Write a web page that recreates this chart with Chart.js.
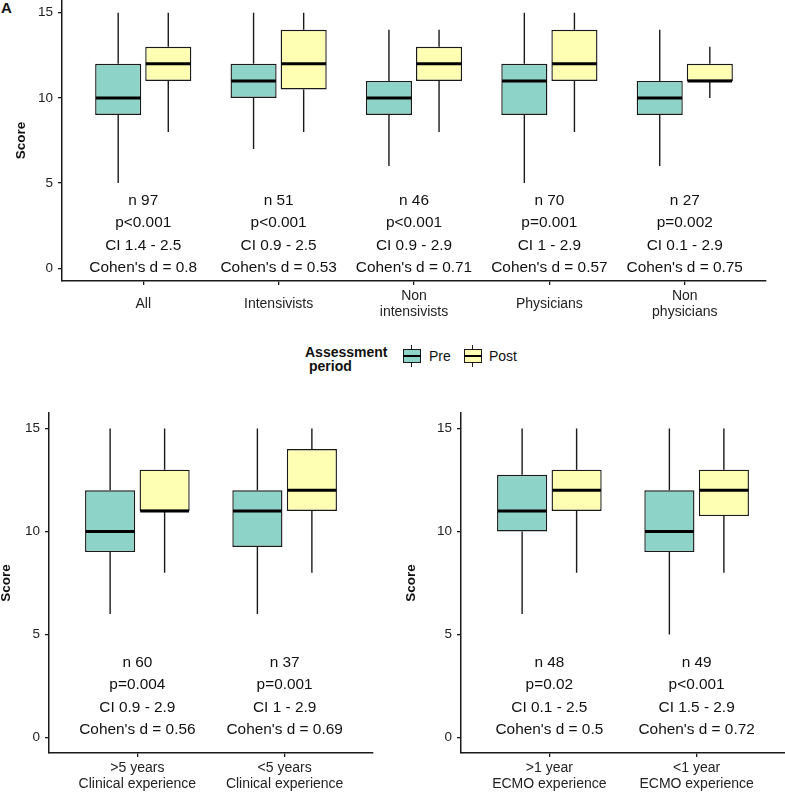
<!DOCTYPE html>
<html>
<head>
<meta charset="utf-8">
<script src="https://cdn.jsdelivr.net/npm/chart.js@4.4.1/dist/chart.umd.min.js"></script>
<style>
  html, body { margin: 0; padding: 0; background: #fff; }
  body { width: 785px; height: 792px; position: relative; overflow: hidden;
         font-family: "Liberation Sans", Arial, sans-serif; color: #111; }
  .wrap { position: absolute; }
  .lg { position: absolute; font-size: 14px; line-height: 16px; white-space: nowrap; }
  .lgb { font-weight: bold; }
  .glyph { position: absolute; width: 18px; height: 22px; }
  .glyph .wk { position: absolute; left: 8px; width: 1.4px; height: 4px; background: #1a1a1a; }
  .glyph .bx { position: absolute; left: 0; top: 4px; width: 18px; height: 14px; box-sizing: border-box; border: 1.4px solid #1a1a1a; }
  .glyph .md { position: absolute; left: 0; top: 9.5px; width: 18px; height: 2.6px; background: #000; }
</style>
</head>
<body>
<div class="lg lgb" style="left:1px;top:0px;font-size:15px;">A</div>
<div class="wrap" style="left:0;top:0;width:785px;height:330px;"><canvas id="cTop"></canvas></div>

<div class="lg lgb" style="left:305px;top:344px;">Assessment</div>
<div class="lg lgb" style="left:309px;top:358px;">period</div>
<div class="glyph" style="left:403px;top:345px;"><div class="wk" style="top:0"></div><div class="bx" style="background:#8DD3C7"></div><div class="md"></div><div class="wk" style="top:18px"></div></div>
<div class="lg" style="left:429px;top:348px;">Pre</div>
<div class="glyph" style="left:464px;top:345px;"><div class="wk" style="top:0"></div><div class="bx" style="background:#FFFFB3"></div><div class="md"></div><div class="wk" style="top:18px"></div></div>
<div class="lg" style="left:489px;top:348px;">Post</div>

<div class="wrap" style="left:0;top:400px;width:390px;height:392px;"><canvas id="cBL"></canvas></div>
<div class="wrap" style="left:390px;top:400px;width:395px;height:392px;"><canvas id="cBR"></canvas></div>

<script>
// ---------- DATA ----------
const yTickValues = [0, 5, 10, 15];

// Panel A: all participants / subgroups
const topCategories = ["All", "Intensivists", ["Non", "intensivists"], "Physicians", ["Non", "physicians"]];
const topPreMin    = [5, 7, 6, 5, 6];
const topPreQ1     = [9, 10, 9, 9, 9];
const topPreMedian = [10, 11, 10, 11, 10];
const topPreQ3     = [12, 12, 11, 12, 11];
const topPreMax    = [15, 15, 14, 15, 14];
const topPostMin    = [8, 8, 8, 8, 10];
const topPostQ1     = [11, 10.5, 11, 11, 11];
const topPostMedian = [12, 12, 12, 12, 11];
const topPostQ3     = [13, 14, 13, 14, 12];
const topPostMax    = [15, 15, 14, 15, 13];
const topN   = [97, 51, 46, 70, 27];
const topP   = ["p<0.001", "p<0.001", "p<0.001", "p=0.001", "p=0.002"];
const topCI  = ["1.4 - 2.5", "0.9 - 2.5", "0.9 - 2.9", "1 - 2.9", "0.1 - 2.9"];
const topD   = ["0.8", "0.53", "0.71", "0.57", "0.75"];

// Panel B: clinical experience
const clinCategories = [[">5 years", "Clinical experience"], ["<5 years", "Clinical experience"]];
const clinPreMin    = [6, 6];
const clinPreQ1     = [9, 9.25];
const clinPreMedian = [10, 11];
const clinPreQ3     = [12, 12];
const clinPreMax    = [15, 15];
const clinPostMin    = [8, 8];
const clinPostQ1     = [11, 11];
const clinPostMedian = [11, 12];
const clinPostQ3     = [13, 14];
const clinPostMax    = [15, 15];
const clinN  = [60, 37];
const clinP  = ["p=0.004", "p=0.001"];
const clinCI = ["0.9 - 2.9", "1 - 2.9"];
const clinD  = ["0.56", "0.69"];

// Panel C: ECMO experience
const ecmoCategories = [[">1 year", "ECMO experience"], ["<1 year", "ECMO experience"]];
const ecmoPreMin    = [6, 5];
const ecmoPreQ1     = [10, 9];
const ecmoPreMedian = [11, 10];
const ecmoPreQ3     = [12.75, 12];
const ecmoPreMax    = [15, 15];
const ecmoPostMin    = [8, 8];
const ecmoPostQ1     = [11, 10.75];
const ecmoPostMedian = [12, 12];
const ecmoPostQ3     = [13, 13];
const ecmoPostMax    = [15, 15];
const ecmoN  = [48, 49];
const ecmoP  = ["p=0.02", "p<0.001"];
const ecmoCI = ["0.1 - 2.5", "1.5 - 2.9"];
const ecmoD  = ["0.5", "0.72"];

const seriesNames = ["Pre", "Post"];
const seriesColors = ["#8DD3C7", "#FFFFB3"];

// ---------- RENDERING ----------
Chart.defaults.font.family = '"Liberation Sans", Arial, sans-serif';
const INK = "#1a1a1a";

const boxPlugin = {
  id: "boxWhisker",
  afterDatasetsDraw(chart) {
    const ctx = chart.ctx, ys = chart.scales.y;
    chart.data.datasets.forEach((ds, d) => {
      const meta = chart.getDatasetMeta(d);
      meta.data.forEach((bar, i) => {
        const p = bar.getProps(["x", "width"], true);
        const x = p.x, w = p.width;
        ctx.save();
        ctx.strokeStyle = INK;
        ctx.lineWidth = 1.4;
        ctx.beginPath();
        ctx.moveTo(x, ys.getPixelForValue(ds.stat.q3[i]));
        ctx.lineTo(x, ys.getPixelForValue(ds.stat.max[i]));
        ctx.moveTo(x, ys.getPixelForValue(ds.stat.q1[i]));
        ctx.lineTo(x, ys.getPixelForValue(ds.stat.min[i]));
        ctx.stroke();
        ctx.strokeStyle = "#000";
        ctx.lineWidth = 3;
        const my = ys.getPixelForValue(ds.stat.med[i]);
        ctx.beginPath();
        ctx.moveTo(x - w / 2 + 0.7, my);
        ctx.lineTo(x + w / 2 - 0.7, my);
        ctx.stroke();
        ctx.restore();
      });
    });
  }
};

const statsPlugin = {
  id: "statsText",
  afterDraw(chart) {
    const t = chart.options.plugins.statsText;
    if (!t) return;
    const ctx = chart.ctx, xs = chart.scales.x, ys = chart.scales.y;
    ctx.save();
    ctx.font = "15.4px 'Liberation Sans', Arial, sans-serif";
    ctx.fillStyle = "#111";
    ctx.textAlign = "center";
    ctx.textBaseline = "middle";
    const yc = ys.getPixelForValue(t.centerValue);
    t.n.forEach((n, i) => {
      const lines = ["n " + n, t.p[i], "CI " + t.ci[i], "Cohen's d = " + t.d[i]];
      const x = xs.getPixelForValue(i);
      lines.forEach((s, k) => ctx.fillText(s, x, yc + (k - 1.5) * 22.5));
    });
    ctx.restore();
  }
};

function makeChart(id, cats, pre, post, stats, lay) {
  const mk = (s, k) => ({
    label: seriesNames[k],
    data: cats.map((c, i) => ({ x: i, y: [s.q1[i], s.q3[i]] })),
    backgroundColor: seriesColors[k],
    borderColor: INK,
    borderWidth: 1.4,
    borderSkipped: false,
    categoryPercentage: 0.74,
    barPercentage: 0.92,
    stat: s
  });
  return new Chart(document.getElementById(id), {
    type: "bar",
    data: { datasets: [mk(pre, 0), mk(post, 1)] },
    plugins: [boxPlugin, statsPlugin],
    options: {
      responsive: true,
      maintainAspectRatio: false,
      animation: false,
      layout: { padding: { left: 0, top: lay.top, right: lay.right, bottom: 0 } },
      plugins: {
        legend: { display: false },
        tooltip: { enabled: false },
        statsText: Object.assign({ centerValue: 2 }, stats)
      },
      scales: {
        x: {
          type: "linear",
          offset: false,
          min: -0.6,
          max: cats.length - 1 + 0.6,
          afterBuildTicks: s => { s.ticks = cats.map((c, i) => ({ value: i })); },
          afterFit: s => { s.height = lay.xH; s.paddingLeft = 0; s.paddingRight = 0; },
          ticks: {
            autoSkip: false, maxRotation: 0, minRotation: 0,
            callback: v => cats[Math.round(v)],
            color: "#222",
            font: { size: 14, lineHeight: 1.13 },
            padding: 11,
            crossAlign: "center"
          },
          grid: { offset: false, drawOnChartArea: false, drawTicks: true, tickLength: 4, color: INK, lineWidth: 1.3 },
          border: { display: true, color: INK, width: 1.5 }
        },
        y: {
          type: "linear",
          min: -0.75,
          max: 15.75,
          afterBuildTicks: s => { s.ticks = yTickValues.map(v => ({ value: v })); },
          afterFit: s => { s.width = lay.yW; s.paddingTop = 0; s.paddingBottom = 0; },
          ticks: { color: "#222", font: { size: 13.5 }, padding: 5 },
          grid: { drawOnChartArea: false, drawTicks: true, tickLength: 4, color: INK, lineWidth: 1.3 },
          border: { display: true, color: INK, width: 1.5 },
          title: {
            display: true, text: "Score", color: "#111",
            font: { size: 13.5, weight: "bold", lineHeight: 1 },
            padding: { top: lay.titlePad, bottom: 0 }
          }
        }
      }
    }
  });
}

makeChart("cTop", topCategories,
  { min: topPreMin, q1: topPreQ1, med: topPreMedian, q3: topPreQ3, max: topPreMax },
  { min: topPostMin, q1: topPostQ1, med: topPostMedian, q3: topPostQ3, max: topPostMax },
  { n: topN, p: topP, ci: topCI, d: topD },
  { top: 0, right: 19, xH: 49, yW: 62, titlePad: 15 });

makeChart("cBL", clinCategories,
  { min: clinPreMin, q1: clinPreQ1, med: clinPreMedian, q3: clinPreQ3, max: clinPreMax },
  { min: clinPostMin, q1: clinPostQ1, med: clinPostMedian, q3: clinPostQ3, max: clinPostMax },
  { n: clinN, p: clinP, ci: clinCI, d: clinD },
  { top: 13, right: 17, xH: 39, yW: 49, titlePad: 0 });

makeChart("cBR", ecmoCategories,
  { min: ecmoPreMin, q1: ecmoPreQ1, med: ecmoPreMedian, q3: ecmoPreQ3, max: ecmoPreMax },
  { min: ecmoPostMin, q1: ecmoPostQ1, med: ecmoPostMedian, q3: ecmoPostQ3, max: ecmoPostMax },
  { n: ecmoN, p: ecmoP, ci: ecmoCI, d: ecmoD },
  { top: 13, right: 0, xH: 39, yW: 71, titlePad: 15 });
</script>
</body>
</html>
